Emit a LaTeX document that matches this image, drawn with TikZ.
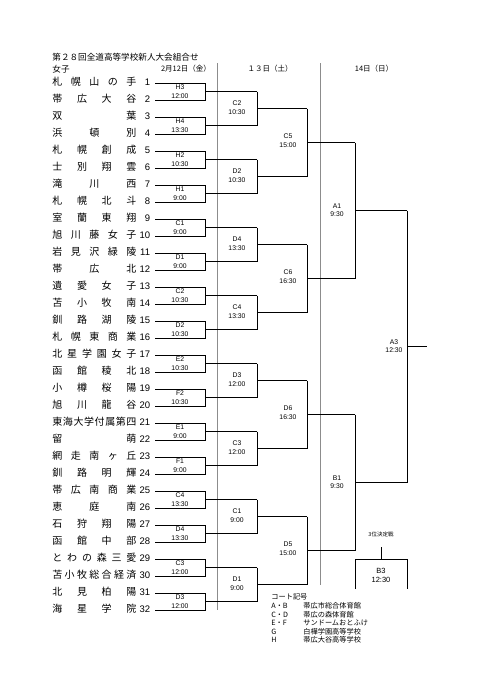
\documentclass[tikz,border=0pt]{standalone}
\usepackage{fontspec}
\setmainfont{Noto Sans CJK JP}
\newfontfamily\latinf{Liberation Sans}
\def\sprd#1{\sprdA#1\endsprd}
\def\sprdA#1#2\endsprd{#1\if\relax\detokenize{#2}\relax\else\hfill\sprdA#2\endsprd\fi}
\begin{document}
\begin{tikzpicture}[x=1pt,y=-1pt,line width=0.8pt,
  team/.style={anchor=west,inner sep=0,font=\fontsize{10}{11}\selectfont},
  num/.style={anchor=east,inner sep=0,font=\latinf\fontsize{9.5}{10}\selectfont},
  lab/.style={inner sep=0,font=\latinf\fontsize{6.8}{7}\selectfont},
  head/.style={inner sep=0,font=\fontsize{7.5}{8}\selectfont},
  guide/.style={line width=0.6pt,draw=black!45},
  leg/.style={anchor=west,inner sep=0,font=\fontsize{7.2}{8}\selectfont}]
\useasboundingbox (0,0) rectangle (481,680);
% headers
\node[anchor=west,inner sep=0,font=\fontsize{8.6}{9}\selectfont] (title) at (52,57) {第２８回全道高等学校新人大会組合せ};
\node[anchor=west,inner sep=0,font=\fontsize{8.6}{9}\selectfont] (girls) at (52,69) {女子};
\node[head] (d12) at (186,69) {2月12日（金）};
\node[head] (d13) at (270,69) {１３日（土）};
\node[head] (d14) at (374,69) {14日（日）};
% guide lines
\draw[guide] (217,63) -- (217,610);
\draw[guide] (320,63) -- (320,585);
% teams
\foreach \n [count=\i] in {札幌山の手,帯広大谷,双葉,浜頓別,札幌創成,士別翔雲,滝川西,札幌北斗,室蘭東翔,旭川藤女子,岩見沢緑陵,帯広北,遺愛女子,苫小牧南,釧路湖陵,札幌東商業,北星学園女子,函館稜北,小樽桜陽,旭川龍谷,東海大学付属第四,留萌,網走南ヶ丘,釧路明輝,帯広南商業,恵庭南,石狩翔陽,函館中部,とわの森三愛,苫小牧総合経済,北見柏陽,海星学院}{
  \pgfmathsetmacro\yy{83+17*(\i-1)}
  \node[team] (t\i) at (52,\yy-1) {\makebox[84pt]{\expandafter\sprd\expandafter{\n}}};
  \node[num] (n\i) at (150.5,\yy-1) {\i};
  \coordinate (s\i) at (155,\yy);
}
% round 1
\foreach \c/\t [count=\k] in {H3/12:00,H4/13:30,H2/10:30,H1/9:00,C1/9:00,D1/9:00,C2/10:30,D2/10:30,E2/10:30,F2/10:30,E1/9:00,F1/9:00,C4/13:30,D4/13:30,C3/12:00,D3/12:00}{
  \pgfmathsetmacro\ya{83+34*(\k-1)}
  \pgfmathsetmacro\yb{\ya+17}
  \pgfmathsetmacro\ym{\ya+8.5}
  \draw (155,\ya) -- (205,\ya) -- (205,\yb) -- (155,\yb);
  \draw (205,\ym) -- (257,\ym);
  \node[lab] (ra\k) at (180,\ym-4.3) {\c};
  \node[lab] (rb\k) at (180,\ym+4.2) {\t};
}
% round 2
\foreach \c/\t [count=\k] in {C2/10:30,D2/10:30,D4/13:30,C4/13:30,D3/12:00,C3/12:00,C1/9:00,D1/9:00}{
  \pgfmathsetmacro\ya{91.5+68*(\k-1)}
  \pgfmathsetmacro\yb{\ya+34}
  \pgfmathsetmacro\ym{\ya+17}
  \draw (257,\ya) -- (257,\yb);
  \draw (257,\ym) -- (307,\ym);
  \node[lab] (sa\k) at (237,\ym-5) {\c};
  \node[lab] (sb\k) at (237,\ym+3.5) {\t};
}
% round 3
\foreach \c/\t [count=\k] in {C5/15:00,C6/16:30,D6/16:30,D5/15:00}{
  \pgfmathsetmacro\ya{108.5+136*(\k-1)}
  \pgfmathsetmacro\yb{\ya+68}
  \pgfmathsetmacro\ym{\ya+34}
  \draw (307,\ya) -- (307,\yb);
  \draw (307,\ym) -- (355,\ym);
  \node[lab] (ua\k) at (288,\ym-6) {\c};
  \node[lab] (ub\k) at (288,\ym+2.5) {\t};
}
% round 4
\foreach \c/\t [count=\k] in {A1/9:30,B1/9:30}{
  \pgfmathsetmacro\ya{142.5+272*(\k-1)}
  \pgfmathsetmacro\yb{\ya+136}
  \pgfmathsetmacro\ym{\ya+68}
  \draw (355,\ya) -- (355,\yb);
  \draw (355,\ym) -- (407,\ym);
  \node[lab] (va\k) at (337,\ym-4.5) {\c};
  \node[lab] (vb\k) at (337,\ym+4) {\t};
}
% final
\draw (407,210.5) -- (407,482.5);
\draw (407,346.5) -- (427,346.5);
\node[lab] (fa) at (394,342) {A3};
\node[lab] (fb) at (394,350.5) {12:30};
% third place
\node[inner sep=0,font=\fontsize{5.5}{6}\selectfont] (third) at (381,534) {3位決定戦};
\draw (381,547) -- (381,559);
\draw (355,589) -- (355,559) -- (407,559) -- (407,589);
\node[lab,font=\latinf\fontsize{7.5}{8}\selectfont] (b3a) at (381,571) {B3};
\node[lab,font=\latinf\fontsize{7.5}{8}\selectfont] (b3b) at (381,580) {12:30};
% legend
\node[leg] (lg0) at (271,597) {コート記号};
\node[leg] (lg1) at (271,606) {A・B};
\node[leg] (lg2) at (271,614.5) {C・D};
\node[leg] (lg3) at (271,623) {E・F};
\node[leg] (lg4) at (271,631.5) {G};
\node[leg] (lg5) at (271,640) {H};
\node[leg] (lh1) at (303,606) {帯広市総合体育館};
\node[leg] (lh2) at (303,614.5) {帯広の森体育館};
\node[leg] (lh3) at (303,623) {サンドームおとふけ};
\node[leg] (lh4) at (303,631.5) {白樺学園高等学校};
\node[leg] (lh5) at (303,640) {帯広大谷高等学校};
\end{tikzpicture}
\end{document}
